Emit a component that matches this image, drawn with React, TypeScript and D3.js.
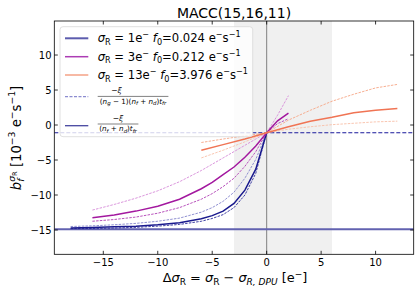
import React from 'react';
import * as d3 from 'd3';

// sigma_R = 1e-  (blue)
const xBlue = [-18, -16, -14, -12, -10, -8, -6, -5, -4, -3, -2, -1, 0];
const blueMid = [-14.7, -14.65, -14.55, -14.45, -14.25, -13.95, -13.4, -12.95, -12.3, -11.2, -9.3, -6.3, -1.1];
const blueUp = [-14.5, -14.4, -14.25, -14.05, -13.75, -13.3, -12.45, -11.8, -10.9, -9.6, -7.6, -4.9, -1.1];
const blueLow = [-14.8, -14.78, -14.72, -14.62, -14.45, -14.2, -13.75, -13.35, -12.8, -11.8, -10.0, -6.9, -1.1];

// sigma_R = 3e-  (magenta)
const xMag = [-16, -14, -12, -10, -8, -6, -5, -4, -3, -2, -1, 0, 1, 2];
const magMid = [-13.25, -12.85, -12.3, -11.6, -10.6, -9.1, -8.2, -7.1, -6.0, -4.6, -3.0, -1.1, 0.6, 1.7];
const magUp = [-12.15, -11.35, -10.45, -9.4, -8.1, -6.5, -5.6, -4.7, -3.8, -2.9, -2.0, -1.1, 1.4, 4.2];
const magLow = [-13.75, -13.5, -13.15, -12.6, -11.8, -10.6, -9.8, -8.8, -7.6, -5.9, -3.8, -1.1, 0.2, 0.9];

// sigma_R = 13e-  (orange)
const xOra = [-6, -4, -2, 0, 2, 4, 6, 8, 10, 12];
const oraMid = [-3.6, -2.8, -2.0, -1.1, -0.25, 0.55, 1.1, 1.75, 2.1, 2.35];
const oraUp = [-2.5, -2.0, -1.55, -1.1, 0.7, 2.1, 3.4, 4.4, 5.3, 5.8];
const oraLow = [-4.7, -3.6, -2.4, -1.1, -0.6, -0.25, 0.05, 0.25, 0.45, 0.55];

// reference levels
const levelGroups = -1.1;   // -xi / ((ng-1)(nf+nd) t_fr)
const levelTotal = -14.9;   // -xi / ((nf+nd) t_fr)
const span = [-3, 6];

const xTicks = [-15, -10, -5, 0, 5, 10];
const yTicks = [-15, -10, -5, 0, 5, 10];

const W = 420, H = 294;
const L = 54.3, R = 413.7, T = 21, B = 254.3;
const FONT = 'DejaVu Sans, sans-serif';

type Seg = { t: string; it?: boolean; pos?: 'sub' | 'sup' | 'subsup'; dx?: number; sc?: number };

const Rich = ({ x, y, segs, size, anchor = 'start', transform }:
  { x: number; y: number; segs: Seg[]; size: number; anchor?: string; transform?: string }) => {
  let cur = 0;
  return (
    <text x={x} y={y} fontSize={size} fontFamily={FONT} textAnchor={anchor} transform={transform} fill="#000">
      {segs.map((s, i) => {
        const shift = s.pos === 'sub' ? size * 0.22 : s.pos === 'sup' ? -size * 0.42 : s.pos === 'subsup' ? -size * 0.28 : 0;
        const dy = shift - cur;
        cur = shift;
        const fs = s.sc ? size * s.sc : s.pos ? size * 0.7 : size;
        return (
          <tspan key={i} dy={dy} dx={s.dx || 0} fontSize={fs} fontStyle={s.it ? 'italic' : 'normal'}>{s.t}</tspan>
        );
      })}
    </text>
  );
};

const fmt = (v: number) => (v < 0 ? '\u2212' + Math.abs(v) : String(v));

export default function App() {
  const x = d3.scaleLinear().domain([-19.5, 13.5]).range([L, R]);
  const y = d3.scaleLinear().domain([-18.47, 14.86]).range([B, T]);
  const line = (xs: number[], ys: number[]) =>
    d3.line<number>().x((_, i) => x(xs[i])).y((d) => y(d))(ys) || undefined;

  const legendRows = [
    { c: '#5c5cae', w: 2, v: '1', f: '0.024' },
    { c: '#ac3cb4', w: 1.5, v: '3', f: '0.212' },
    { c: '#f4a286', w: 1.5, v: '13', f: '3.976' },
  ];
  const rowY = [38.3, 56.7, 75];
  const fs = 11.6;

  return (
    <svg width={W} height={H} style={{ position: 'absolute', left: 0, top: 0, background: '#fff' }}>
      <defs>
        <clipPath id="plot"><rect x={L} y={T} width={R - L} height={B - T} /></clipPath>
      </defs>
      <text x={(L + R) / 2} y={18} textAnchor="middle" fontSize={14} fontFamily={FONT}>MACC(15,16,11)</text>

      <g clipPath="url(#plot)">
        <rect x={x(span[0])} y={T} width={x(span[1]) - x(span[0])} height={B - T} fill="#f0f0f0" />
        <line x1={x(0)} x2={x(0)} y1={T} y2={B} stroke="#808080" strokeWidth={1} />
        <line x1={L} x2={R} y1={y(levelTotal)} y2={y(levelTotal)} stroke="#6262b0" strokeWidth={2} />
        <line x1={L} x2={R} y1={y(levelGroups)} y2={y(levelGroups)} stroke="#1a1a9c" strokeWidth={1.1} strokeDasharray="4 2" />

        {/* blue */}
        <path d={line(xBlue, blueUp)} fill="none" stroke="#8484cc" strokeWidth={0.9} strokeDasharray="2.5 1.2" />
        <path d={line(xBlue, blueLow)} fill="none" stroke="#2a2a9a" strokeWidth={0.9} strokeDasharray="2.5 1.2" />
        <path d={line(xBlue, blueMid)} fill="none" stroke="#1a1a8e" strokeWidth={1.5} />
        {/* magenta */}
        <path d={line(xMag, magUp)} fill="none" stroke="#d68ad8" strokeWidth={0.9} strokeDasharray="2.5 1.2" />
        <path d={line(xMag, magLow)} fill="none" stroke="#b040b4" strokeWidth={0.9} strokeDasharray="2.5 1.2" />
        <path d={line(xMag, magMid)} fill="none" stroke="#a3189f" strokeWidth={1.5} />
        {/* orange */}
        <path d={line(xOra, oraUp)} fill="none" stroke="#f6a686" strokeWidth={0.9} strokeDasharray="2.5 1.2" />
        <path d={line(xOra, oraLow)} fill="none" stroke="#f8c0a8" strokeWidth={0.9} strokeDasharray="2.5 1.2" />
        <path d={line(xOra, oraMid)} fill="none" stroke="#f07454" strokeWidth={1.5} />
      </g>

      {/* legend */}
      <rect x={60} y={26.7} width={192.7} height={110} rx={3} fill="#fff" fillOpacity={0.8} stroke="#d8d8d8" strokeWidth={0.8} />
      {legendRows.map((r, i) => (
        <g key={i}>
          <line x1={65} x2={88.3} y1={rowY[i]} y2={rowY[i]} stroke={r.c} strokeWidth={r.w} />
          <Rich x={97.7} y={rowY[i] + 4} size={fs} segs={[
            { t: '\u03c3', it: true }, { t: 'R', pos: 'sub' }, { t: ' = ' + r.v + 'e' },
            { t: '\u2212', pos: 'sup' }, { t: ' ' }, { t: 'f', it: true }, { t: '0', pos: 'sub' },
            { t: '=' + r.f + ' e' }, { t: '\u2212', pos: 'sup' }, { t: 's' }, { t: '\u22121', pos: 'sup' },
          ]} />
        </g>
      ))}
      <line x1={65} x2={88.3} y1={96.7} y2={96.7} stroke="#8c8cd0" strokeWidth={1.2} strokeDasharray="3 1.5" />
      <Rich x={116.5} y={93.3} size={7.6} anchor="middle" segs={[{ t: '\u2212' }, { t: '\u03be', it: true }]} />
      <line x1={97.7} x2={168.4} y1={96.4} y2={96.4} stroke="#000" strokeWidth={0.5} />
      <Rich x={133} y={103.5} size={7.2} anchor="middle" segs={[
        { t: '(' }, { t: 'n', it: true }, { t: 'g', it: true, pos: 'sub', sc: 0.75 }, { t: ' \u2212 1)(' },
        { t: 'n', it: true }, { t: 'f', it: true, pos: 'sub', sc: 0.75 }, { t: ' + ' }, { t: 'n', it: true },
        { t: 'd', it: true, pos: 'sub', sc: 0.75 }, { t: ')' }, { t: 't', it: true }, { t: 'fr', it: true, pos: 'sub', sc: 0.75 },
      ]} />
      <line x1={65} x2={88.3} y1={125.7} y2={125.7} stroke="#4646a0" strokeWidth={1.3} />
      <Rich x={118} y={121} size={7.6} anchor="middle" segs={[{ t: '\u2212' }, { t: '\u03be', it: true }]} />
      <line x1={97.7} x2={138.4} y1={124} y2={124} stroke="#000" strokeWidth={0.5} />
      <Rich x={118} y={131} size={7.2} anchor="middle" segs={[
        { t: '(' }, { t: 'n', it: true }, { t: 'f', it: true, pos: 'sub', sc: 0.75 }, { t: ' + ' }, { t: 'n', it: true },
        { t: 'd', it: true, pos: 'sub', sc: 0.75 }, { t: ')' }, { t: 't', it: true }, { t: 'fr', it: true, pos: 'sub', sc: 0.75 },
      ]} />

      {/* axes frame and ticks */}
      <rect x={L} y={T} width={R - L} height={B - T} fill="none" stroke="#000" strokeWidth={0.8} />
      {xTicks.map((t) => (
        <g key={'x' + t}>
          <line x1={x(t)} x2={x(t)} y1={B} y2={B - 3.5} stroke="#000" strokeWidth={0.8} />
          <line x1={x(t)} x2={x(t)} y1={T} y2={T + 3.5} stroke="#000" strokeWidth={0.8} />
          <text x={x(t)} y={265.5} textAnchor="middle" fontSize={10} fontFamily={FONT}>{fmt(t)}</text>
        </g>
      ))}
      {yTicks.map((t) => (
        <g key={'y' + t}>
          <line x1={L} x2={L + 3.5} y1={y(t)} y2={y(t)} stroke="#000" strokeWidth={0.8} />
          <line x1={R} x2={R - 3.5} y1={y(t)} y2={y(t)} stroke="#000" strokeWidth={0.8} />
          <text x={51.5} y={y(t) + 3.6} textAnchor="end" fontSize={10} fontFamily={FONT}>{fmt(t)}</text>
        </g>
      ))}

      {/* axis labels */}
      <Rich x={(L + R) / 2 + 1} y={282} size={12.9} anchor="middle" segs={[
        { t: '\u0394' }, { t: '\u03c3', it: true }, { t: 'R', pos: 'sub' }, { t: ' = ' }, { t: '\u03c3', it: true },
        { t: 'R', pos: 'sub' }, { t: ' \u2212 ' }, { t: '\u03c3', it: true }, { t: 'R, DPU', it: true, pos: 'sub' },
        { t: ' [e' }, { t: '\u2212', pos: 'sup' }, { t: ']' },
      ]} />
      <Rich x={0} y={0} size={13.2} anchor="middle" transform={`translate(21,138) rotate(-90)`} segs={[
        { t: 'b', it: true }, { t: 'f', it: true, pos: 'sub' }, { t: '\u03c3', it: true, pos: 'sup', dx: -3.2 },
        { t: 'R', pos: 'subsup', sc: 0.5 }, { t: ' [10' }, { t: '\u22123', pos: 'sup' }, { t: ' e' },
        { t: '\u2212', pos: 'sup' }, { t: 's' }, { t: '\u22121', pos: 'sup' }, { t: ']' },
      ]} />
    </svg>
  );
}
